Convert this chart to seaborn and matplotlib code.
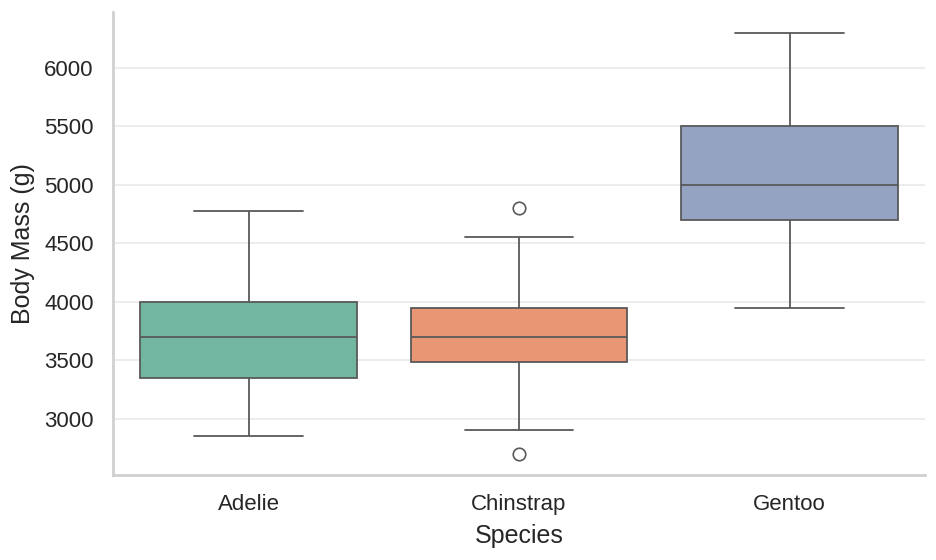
import matplotlib
matplotlib.use('Agg')
import matplotlib.pyplot as plt
import numpy as np
import pandas as pd
import seaborn as sns

# Body mass values (g) chosen to reproduce the box statistics
species = ['Adelie', 'Chinstrap', 'Gentoo']
adelie_mass = [2850, 3350, 3700, 4000, 4775]
chinstrap_mass = [2700, 2900, 3487.5, 3600, 3700, 3800, 3950, 4550, 4800]
gentoo_mass = [3950, 4700, 5000, 5500, 6300]

sns.set_theme(style='whitegrid')
plt.rcParams['font.family'] = ['Liberation Sans', 'DejaVu Sans']

df = pd.DataFrame({
    'Species': (['Adelie'] * len(adelie_mass) + ['Chinstrap'] * len(chinstrap_mass)
                + ['Gentoo'] * len(gentoo_mass)),
    'Body Mass (g)': adelie_mass + chinstrap_mass + gentoo_mass,
})

fig, ax = plt.subplots(figsize=(9.36, 5.6), dpi=100)
sns.boxplot(data=df, x='Species', y='Body Mass (g)', hue='Species', order=species,
            palette='Set2', legend=False, ax=ax, linewidth=1.3,
            flierprops=dict(markersize=9, markeredgewidth=1.2))
sns.despine(ax=ax)

ax.set_xlabel('Species', fontsize=18, labelpad=6)
ax.set_ylabel('Body Mass (g)', fontsize=18, labelpad=7)
ax.tick_params(axis='both', labelsize=16, pad=8)
ax.grid(axis='x', visible=False)
ax.grid(axis='y', color='#ebebeb', linewidth=1.3)
for s in ['left', 'bottom']:
    ax.spines[s].set_color('#d0d0d0')
    ax.spines[s].set_linewidth(2)

fig.subplots_adjust(left=0.121, right=0.988, top=0.979, bottom=0.152)
fig.savefig('out.png', dpi=100)
